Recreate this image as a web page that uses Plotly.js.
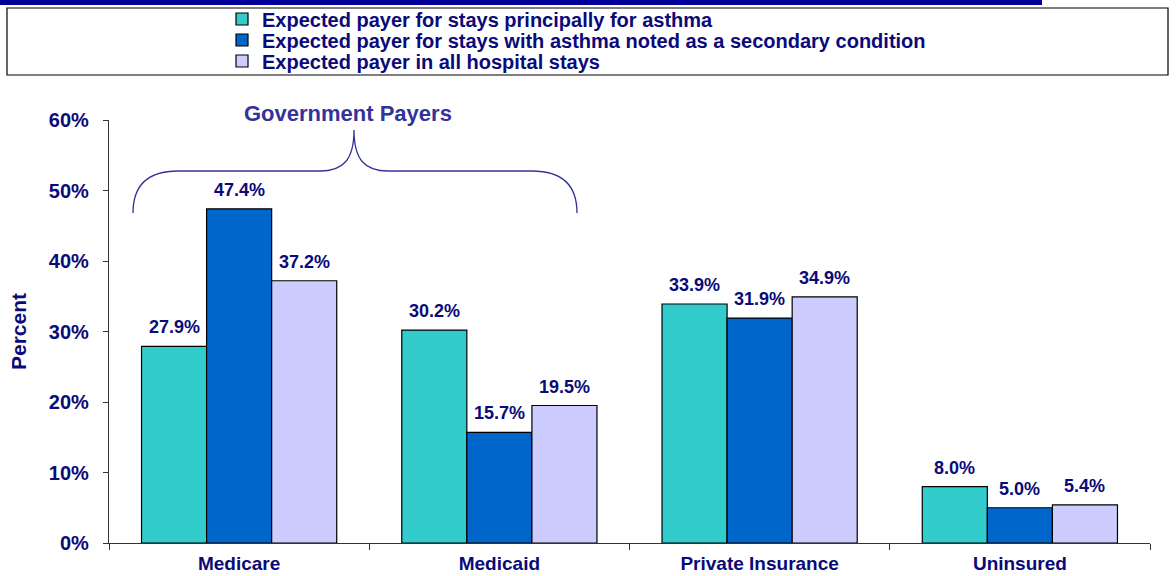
<!DOCTYPE html>
<html>
<head>
<meta charset="utf-8">
<script src="https://cdn.plot.ly/plotly-3.0.1.min.js"></script>
<style>html,body{margin:0;padding:0;background:#fff}#chart{width:1176px;height:576px}</style>
</head>
<body>
<div id="chart"></div>
<script>
const categories = ["Medicare", "Medicaid", "Private Insurance", "Uninsured"];
const seriesNames = [
  "Expected payer for stays principally for asthma",
  "Expected payer for stays with asthma noted as a secondary condition",
  "Expected payer in all hospital stays"
];
const principal = [27.9, 30.2, 33.9, 8.0];
const secondary = [47.4, 15.7, 31.9, 5.0];
const allStays = [37.2, 19.5, 34.9, 5.4];
const yTickVals = [0, 10, 20, 30, 40, 50, 60];
const yTickText = ["0%", "10%", "20%", "30%", "40%", "50%", "60%"];
const bracketLabel = "Government Payers";

const colors = ["#33CCCC", "#0066CC", "#CCCCFF"];
const navy = "#0A0A78";
const font = "Liberation Sans, Arial, sans-serif";
const seriesValues = [principal, secondary, allStays];
const b = s => "<b>" + s + "</b>";

const W = 1176, H = 576;
const m = {l: 109, r: 26, t: 120, b: 33, autoexpand: false};
const pw = W - m.l - m.r, ph = H - m.t - m.b;
const px = x => (x - m.l) / pw;
const py = y => (H - m.b - y) / ph;

const legendKeys = ["legend", "legend2", "legend3"];
const legendRows = [19, 40, 61];

const traces = seriesValues.map((vals, i) => ({
  type: "bar",
  name: b(seriesNames[i]),
  x: categories,
  y: vals,
  legend: legendKeys[i],
  marker: {color: colors[i], line: {color: "#000", width: 1.2}},
  hoverinfo: "skip"
}));

const annotations = [];
seriesValues.forEach((vals, i) => {
  vals.forEach((v, j) => {
    annotations.push({
      x: categories[j], y: v, xref: "x", yref: "y",
      text: b(v.toFixed(1) + "%"), showarrow: false,
      xshift: (i - 1) * 65, yshift: 19, yanchor: "middle",
      font: {family: font, size: 18, color: navy}
    });
  });
});
annotations.push({
  xref: "paper", yref: "paper", x: px(348), y: py(114),
  text: b(bracketLabel), showarrow: false, xanchor: "center", yanchor: "middle",
  font: {family: font, size: 22, color: "#333399"}
});

function P(x, y) { return px(x).toFixed(5) + "," + py(y).toFixed(5); }
const bracePath =
  "M" + P(133, 213) +
  " Q" + P(133, 171) + " " + P(178, 171) +
  " L" + P(320, 171) +
  " C" + P(343, 171) + " " + P(354, 160) + " " + P(354, 130) +
  " C" + P(354, 160) + " " + P(365, 171) + " " + P(388, 171) +
  " L" + P(532, 171) +
  " Q" + P(577, 171) + " " + P(577, 213);

const shapes = [
  {type: "path", xref: "paper", yref: "paper", path: bracePath,
   line: {color: "#333399", width: 1.3}},
  {type: "rect", xref: "paper", yref: "paper",
   x0: px(7), x1: px(1168), y0: py(8), y1: py(75),
   line: {color: "#000", width: 1.2}, fillcolor: "rgba(0,0,0,0)"},
  {type: "rect", xref: "paper", yref: "paper",
   x0: px(0), x1: px(1042), y0: py(0), y1: py(5),
   line: {width: 0}, fillcolor: "#000099"}
];

const layout = {
  width: W, height: H,
  margin: m,
  paper_bgcolor: "#fff", plot_bgcolor: "#fff",
  barmode: "group", bargap: 0.25, bargroupgap: 0,
  showlegend: true,
  xaxis: {
    type: "category",
    tickvals: categories, ticktext: categories.map(b),
    showline: true, linecolor: "#333", linewidth: 1.2,
    ticks: "outside", tickson: "boundaries", ticklen: 6, tickcolor: "#333",
    ticklabelstandoff: 3,
    tickfont: {family: font, size: 19, color: navy},
    showgrid: false, zeroline: false, fixedrange: true, automargin: false
  },
  yaxis: {
    range: [0, 60],
    tickvals: yTickVals, ticktext: yTickText.map(b),
    showline: true, linecolor: "#333", linewidth: 1.2,
    ticks: "outside", ticklen: 5, tickcolor: "#333",
    ticklabelstandoff: 10,
    tickfont: {family: font, size: 20, color: navy},
    showgrid: false, zeroline: false, automargin: false,
    title: {text: b("Percent"), standoff: 16,
            font: {family: font, size: 21, color: navy}},
    fixedrange: true
  },
  annotations: annotations,
  shapes: shapes
};

legendKeys.forEach((k, i) => {
  layout[k] = {
    x: px(222), y: py(legendRows[i]), xanchor: "left", yanchor: "middle",
    bgcolor: "rgba(0,0,0,0)", borderwidth: 0,
    font: {family: font, size: 20, color: navy},
    itemwidth: 30
  };
});

Plotly.newPlot("chart", traces, layout, {displayModeBar: false, staticPlot: true});
</script>
</body>
</html>
